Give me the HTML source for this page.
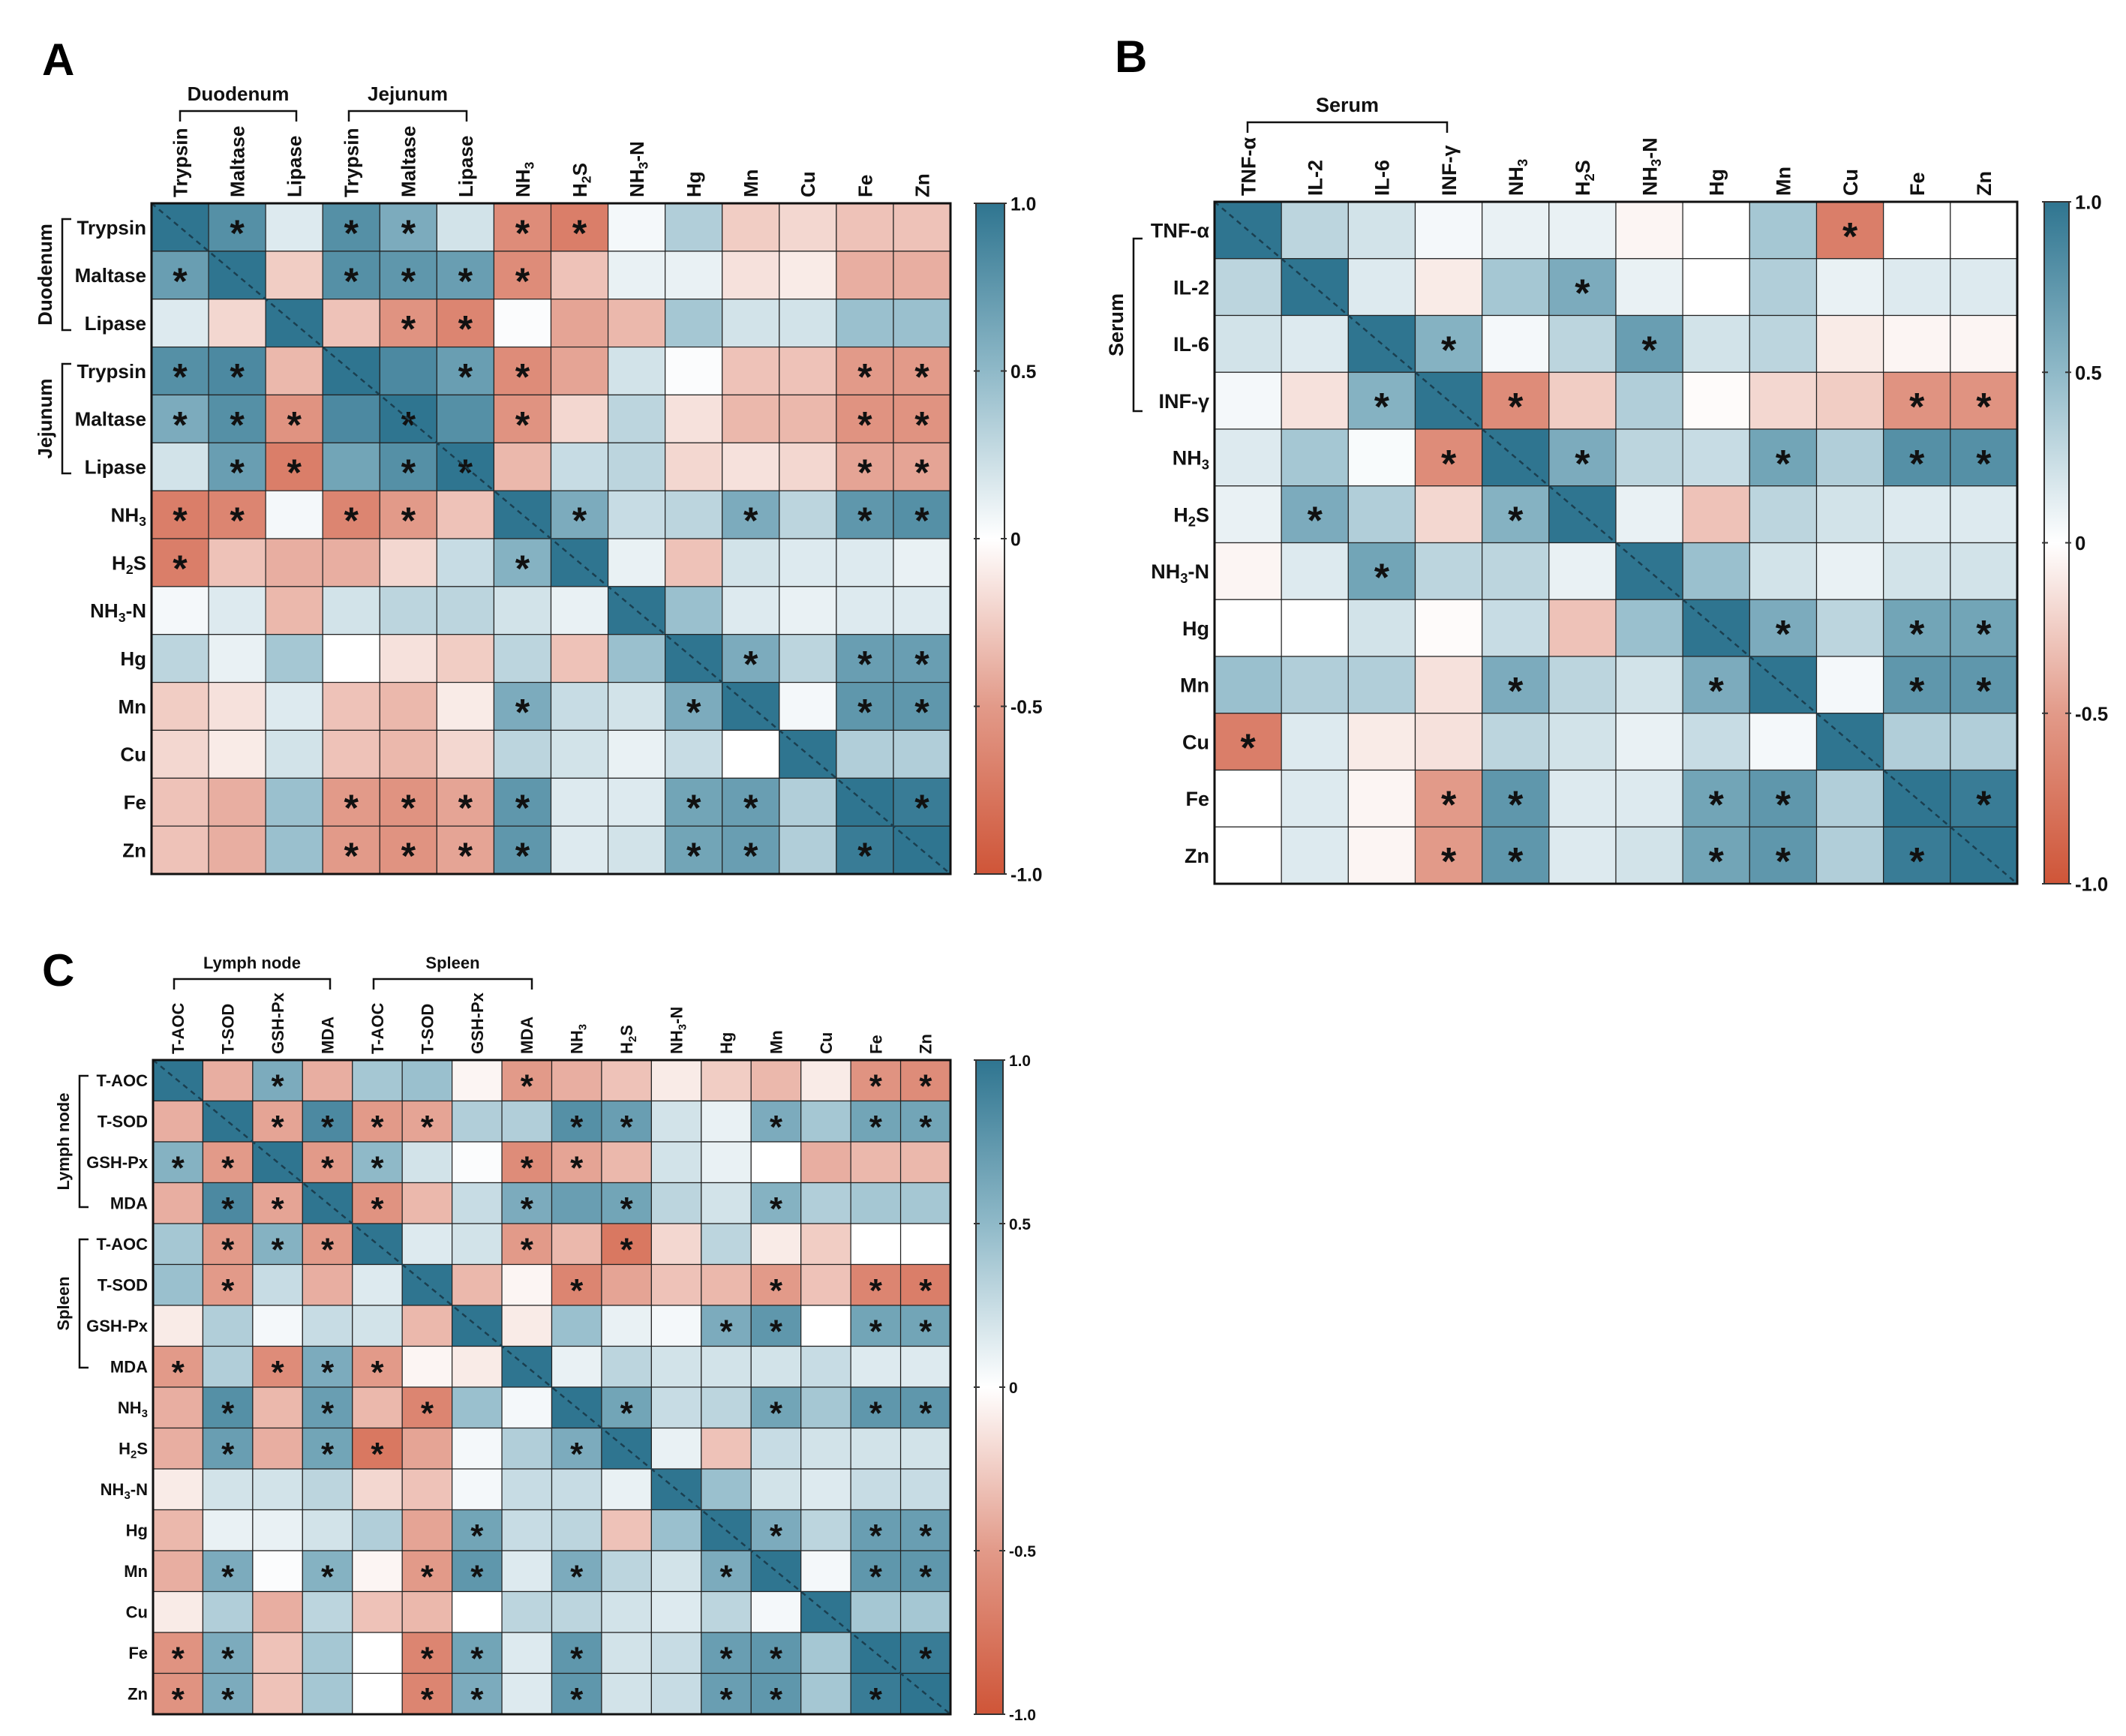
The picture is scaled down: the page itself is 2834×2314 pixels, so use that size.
<!DOCTYPE html>
<html><head><meta charset="utf-8">
<style>
html,body{margin:0;padding:0;background:#fff;}
svg{display:block;font-family:"Liberation Sans",Arial,sans-serif;font-weight:bold;}
</style></head>
<body>
<svg id="fig" width="2834" height="2314" viewBox="0 0 2834 2314" xmlns="http://www.w3.org/2000/svg">
<defs>
<linearGradient id="cbgrad" x1="0" y1="0" x2="0" y2="1">
<stop offset="0" stop-color="#2f7590"/>
<stop offset="0.25" stop-color="#8fb9c8"/>
<stop offset="0.5" stop-color="#ffffff"/>
<stop offset="0.75" stop-color="#e29a89"/>
<stop offset="1" stop-color="#cf5538"/>
</linearGradient>
</defs>
</svg>
<script>
// ---------- Panel A data ----------
const labelsA = ["Trypsin","Maltase","Lipase","Trypsin","Maltase","Lipase","NH3","H2S","NH3-N","Hg","Mn","Cu","Fe","Zn"];
const valuesA = [
[1,.8,.15,.8,.6,.2,-.6,-.7,.05,.35,-.25,-.2,-.3,-.3],
[.7,1,-.25,.8,.75,.7,-.6,-.3,.1,.1,-.15,-.1,-.4,-.4],
[.15,-.2,1,-.3,-.55,-.65,.02,-.45,-.35,.4,.2,.2,.45,.45],
[.8,.85,-.35,1,.85,.7,-.6,-.45,.2,.02,-.3,-.3,-.5,-.5],
[.6,.8,-.55,.85,1,.8,-.55,-.2,.3,-.15,-.35,-.35,-.55,-.55],
[.2,.7,-.7,.65,.8,1,-.35,.25,.3,-.2,-.15,-.2,-.45,-.45],
[-.7,-.65,.05,-.65,-.5,-.3,1,.6,.25,.3,.6,.3,.75,.8],
[-.7,-.3,-.4,-.4,-.2,.25,.55,1,.1,-.3,.2,.15,.15,.1],
[.05,.15,-.35,.2,.3,.3,.2,.1,1,.45,.15,.1,.15,.15],
[.3,.1,.4,0,-.15,-.25,.3,-.3,.45,1,.6,.3,.7,.7],
[-.25,-.15,.15,-.3,-.35,-.1,.6,.25,.2,.6,1,.05,.75,.75],
[-.2,-.1,.2,-.3,-.35,-.2,.3,.2,.1,.25,0,1,.35,.35],
[-.3,-.4,.45,-.5,-.55,-.45,.75,.15,.15,.65,.7,.35,1,.95],
[-.3,-.4,.45,-.5,-.55,-.45,.75,.15,.2,.65,.7,.35,.95,1]];
const starsA = [
"01011011000000","10011110000000","00001100000000","11000110000011","11101010000011",
"01101100000011","11011001001011","10000010000000","00000000000000","00000000001011",
"00000010010011","00000000000000","00011110011001","00011110011010"];
// ---------- Panel B data ----------
const labelsB = ["TNF-α","IL-2","IL-6","INF-γ","NH3","H2S","NH3-N","Hg","Mn","Cu","Fe","Zn"];
const valuesB = [
[1,.3,.2,.05,.1,.1,-.05,0,.4,-.7,0,0],
[.3,1,.15,-.1,.4,.6,.1,0,.35,.1,.15,.15],
[.2,.15,1,.55,.05,.3,.7,.2,.3,-.1,-.05,-.05],
[.05,-.15,.55,1,-.6,-.25,.35,-.02,-.2,-.25,-.55,-.55],
[.15,.4,.03,-.6,1,.6,.3,.25,.65,.35,.8,.8],
[.1,.6,.35,-.2,.55,1,.1,-.3,.3,.2,.15,.15],
[-.05,.15,.65,.3,.3,.1,1,.45,.2,.1,.2,.2],
[0,0,.2,-.02,.25,-.3,.45,1,.6,.3,.65,.65],
[.45,.35,.35,-.15,.6,.3,.2,.6,1,.05,.75,.75],
[-.7,.15,-.1,-.15,.3,.2,.1,.25,.05,1,.35,.35],
[0,.15,-.05,-.5,.75,.15,.15,.65,.75,.35,1,.95],
[0,.15,-.05,-.5,.75,.15,.2,.65,.75,.35,.95,1]];
const starsB = [
"000000000100","000001000000","000100100000","001010000011","000101001011","010010000000",
"001000000000","000000001011","000010010011","100000000000","000110011001","000110011010"];
// ---------- Panel C data ----------
const labelsC = ["T-AOC","T-SOD","GSH-Px","MDA","T-AOC","T-SOD","GSH-Px","MDA","NH3","H2S","NH3-N","Hg","Mn","Cu","Fe","Zn"];
const valuesC = [
[1,-.4,.6,-.4,.4,.45,-.05,-.5,-.4,-.3,-.1,-.25,-.35,-.1,-.55,-.6],
[-.4,1,-.45,.85,-.5,-.45,.35,.35,.8,.7,.2,.1,.6,.4,.65,.65],
[.55,-.5,1,-.5,.5,.2,.02,-.6,-.45,-.35,.2,.1,0,-.4,-.35,-.35],
[-.4,.85,-.45,1,-.55,-.35,.25,.6,.7,.65,.3,.2,.55,.35,.4,.4],
[.4,-.5,.55,-.5,1,.15,.2,-.5,-.35,-.75,-.2,.3,-.1,-.25,0,0],
[.45,-.5,.25,-.4,.15,1,-.35,-.05,-.65,-.45,-.3,-.35,-.5,-.3,-.65,-.7],
[-.1,.35,.05,.25,.2,-.35,1,-.1,.45,.1,.05,.6,.75,0,.65,.65],
[-.5,.35,-.6,.6,-.5,-.05,-.1,1,.1,.3,.2,.2,.2,.25,.15,.15],
[-.4,.8,-.35,.7,-.35,-.65,.45,.05,1,.65,.25,.3,.65,.4,.75,.75],
[-.4,.7,-.4,.65,-.75,-.45,.05,.35,.6,1,.1,-.3,.25,.2,.2,.2],
[-.1,.2,.2,.3,-.2,-.3,.05,.25,.25,.1,1,.45,.2,.15,.25,.25],
[-.35,.1,.1,.2,.35,-.45,.65,.25,.3,-.3,.45,1,.6,.3,.7,.7],
[-.4,.6,.02,.55,-.05,-.5,.75,.15,.6,.3,.2,.6,1,.05,.75,.75],
[-.1,.35,-.4,.3,-.3,-.35,0,.3,.3,.2,.15,.3,.05,1,.4,.4],
[-.55,.6,-.3,.4,0,-.65,.65,.15,.75,.2,.25,.7,.75,.4,1,.95],
[-.55,.6,-.3,.4,0,-.65,.6,.15,.75,.2,.25,.7,.75,.4,.95,1]];
const starsC = [
"0010000100000011","0011110011001011","1101100110000000","0110100101001000",
"0111000101000000","0100000010001011","0000000000011011","1011100000000000",
"0101010001001011","0101100010000000","0000000000000000","0000001000001011",
"0101011010010011","0000000000000000","1100011010011001","1100011010011010"];
const cbTicks = [1.0,0.5,0,-0.5,-1.0];
const cbTickText = ["1.0","0.5","0","-0.5","-1.0"];

const NS="http://www.w3.org/2000/svg";
const svg=document.getElementById('fig');
function mk(tag,attrs,parent){const e=document.createElementNS(NS,tag);for(const k in attrs)e.setAttribute(k,attrs[k]);(parent||svg).appendChild(e);return e;}
function lerp(a,b,t){return Math.round(a+(b-a)*t);}
function color(v){
  const stops=[[-1,[207,85,56]],[-0.5,[226,154,137]],[0,[255,255,255]],[0.5,[143,185,200]],[1,[47,117,144]]];
  v=Math.max(-1,Math.min(1,v));
  for(let i=0;i<stops.length-1;i++){const[a,ca]=stops[i],[b,cb]=stops[i+1];
    if(v<=b){const t=(v-a)/(b-a);return `rgb(${lerp(ca[0],cb[0],t)},${lerp(ca[1],cb[1],t)},${lerp(ca[2],cb[2],t)})`;}}
  return 'rgb(47,117,144)';
}
function setLabel(t,lab,fs){
  const m=lab.match(/^(NH|H)(3|2)(.*)$/);
  if(m){t.appendChild(document.createTextNode(m[1]));
    const s=mk('tspan',{'font-size':fs*0.68,'dy':fs*0.22},t);s.textContent=m[2];
    const r=mk('tspan',{'dy':-fs*0.22},t);r.textContent=m[3];}
  else t.textContent=lab;
}
function panel(o){
  const g=mk('g',{});
  
  
  const n=o.labels.length, cw=(o.x1-o.x0)/n, ch=(o.y1-o.y0)/n;
  const xs=i=>o.x0+i*cw, ys=i=>o.y0+i*ch;
  for(let r=0;r<n;r++)for(let c=0;c<n;c++){
    const rect=mk('rect',{x:xs(c),y:ys(r),width:cw,height:ch,fill:color(o.values[r][c]),stroke:'#222','stroke-width':1.2},g);
    
    
    if(o.stars[r][c]==='1'){
      const s=mk('text',{x:xs(c)+cw/2,y:ys(r)+ch/2+o.sfs*0.5,'text-anchor':'middle','font-size':o.sfs,fill:'#111'},g);
      s.textContent='*';
      
      
    }
  }
  mk('line',{x1:o.x0,y1:o.y0,x2:o.x1,y2:o.y1,stroke:'#1a3f50','stroke-width':2.5,'stroke-dasharray':'7,6'},g);
  mk('rect',{x:o.x0,y:o.y0,width:o.x1-o.x0,height:o.y1-o.y0,fill:'none',stroke:'#111','stroke-width':3},g);
  for(let i=0;i<n;i++){
    const t=mk('text',{x:o.x0-7,y:ys(i)+ch/2+o.fs*0.36,'text-anchor':'end','font-size':o.fs,fill:'#111'},g);
    setLabel(t,o.labels[i],o.fs);
    
    
    const cx=xs(i)+cw/2+o.fs*0.36, cy=o.y0-8;
    const u=mk('text',{x:cx,y:cy,transform:`rotate(-90 ${cx} ${cy})`,'text-anchor':'start','font-size':o.fs,fill:'#111'},g);
    setLabel(u,o.labels[i],o.fs);
    
    
  }
  const cb=mk('rect',{x:o.cbx,y:o.y0,width:o.cbw,height:o.y1-o.y0,fill:'url(#cbgrad)',stroke:'#333','stroke-width':2},g);
  
  
  const cy=v=>o.y0+(1-v)/2*(o.y1-o.y0);
  cbTicks.forEach((v,i)=>{
    mk('line',{x1:o.cbx-3,x2:o.cbx+5,y1:cy(v),y2:cy(v),stroke:'#333','stroke-width':2},g);
    mk('line',{x1:o.cbx+o.cbw-5,x2:o.cbx+o.cbw+3,y1:cy(v),y2:cy(v),stroke:'#333','stroke-width':2},g);
    const t=mk('text',{x:o.cbx+o.cbw+8,y:cy(v)+o.fs*0.36,'font-size':o.fs*0.95,fill:'#111'},g);
    t.textContent=cbTickText[i];
    
    
  });
  const L=mk('text',{x:o.lx,y:o.ly,'font-size':o.lfs,fill:'#000'},g);
  L.textContent=o.letter;
  
  
  o.topGroups.forEach(tg=>{
    mk('path',{d:`M${tg.a} ${tg.yb+14} V${tg.yb} H${tg.b} V${tg.yb+14}`,fill:'none',stroke:'#111','stroke-width':2.5},g);
    const t=mk('text',{x:(tg.a+tg.b)/2,y:tg.yb-14,'text-anchor':'middle','font-size':o.gfs,fill:'#111'},g);
    t.textContent=tg.t;
    
    
  });
  o.leftGroups.forEach(lg=>{
    mk('path',{d:`M${lg.xb+12} ${lg.a} H${lg.xb} V${lg.b} H${lg.xb+12}`,fill:'none',stroke:'#111','stroke-width':2.5},g);
    const lx=lg.xb-14, ly=(lg.a+lg.b)/2;
    const t=mk('text',{x:lx,y:ly,transform:`rotate(-90 ${lx} ${ly})`,'text-anchor':'middle','font-size':o.gfs,fill:'#111'},g);
    t.textContent=lg.t;
    
    
  });
}
panel({name:'heatmap-a',letter:'A',labels:labelsA,values:valuesA,stars:starsA,x0:202,x1:1267,y0:271,y1:1165,
  fs:26,sfs:50,gfs:26,cbx:1301,cbw:38,lx:56,ly:100,lfs:60,
  topGroups:[{t:'Duodenum',a:240,b:395,yb:148},{t:'Jejunum',a:465,b:622,yb:148}],
  leftGroups:[{t:'Duodenum',a:292,b:440,xb:83},{t:'Jejunum',a:485,b:631,xb:83}]});
panel({name:'heatmap-b',letter:'B',labels:labelsB,values:valuesB,stars:starsB,x0:1619,x1:2689,y0:269,y1:1178,
  fs:27,sfs:52,gfs:27,cbx:2725,cbw:33,lx:1486,ly:96,lfs:60,
  topGroups:[{t:'Serum',a:1663,b:1929,yb:163}],
  leftGroups:[{t:'Serum',a:318,b:548,xb:1511}]});
panel({name:'heatmap-c',letter:'C',labels:labelsC,values:valuesC,stars:starsC,x0:204,x1:1267,y0:1413,y1:2285,
  fs:22,sfs:44,gfs:22,cbx:1301,cbw:36,lx:56,ly:1314,lfs:60,
  topGroups:[{t:'Lymph node',a:232,b:440,yb:1305},{t:'Spleen',a:498,b:709,yb:1305}],
  leftGroups:[{t:'Lymph node',a:1434,b:1609,xb:106},{t:'Spleen',a:1652,b:1823,xb:106}]});
</script>
</body></html>
